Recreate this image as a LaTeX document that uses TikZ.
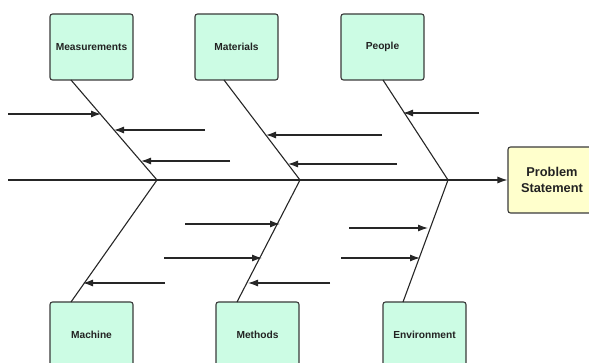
\documentclass[tikz,border=0pt]{standalone}
\usepackage{fontspec}
\setmainfont{Liberation Sans}
\usetikzlibrary{arrows.meta}
\definecolor{boxgreen}{HTML}{CCFCE4}
\definecolor{boxyellow}{HTML}{FFFFCC}
\definecolor{edgegray}{HTML}{3A3A3A}
\definecolor{txt}{HTML}{222222}
\tikzset{
  cat/.style={draw=edgegray, line width=1.1pt, fill=boxgreen, rounded corners=2.5pt,
    minimum width=83pt, minimum height=66pt, inner sep=0pt,
    font=\fontsize{10.2}{12}\selectfont\bfseries, text=txt},
  prob/.style={draw=edgegray, line width=1.1pt, fill=boxyellow, rounded corners=2.5pt,
    minimum width=88pt, minimum height=66pt, inner sep=0pt, align=center,
    font=\fontsize{12.8}{16}\selectfont\bfseries, text=txt},
  bone/.style={draw=black!85, line width=1.1pt},
  cause/.style={draw=black!85, line width=1.1pt, -{Latex[length=10pt,width=7pt]}}
}
\begin{document}
\begin{tikzpicture}[x=1pt,y=-1pt]
\useasboundingbox (0,0) rectangle (589,363);
\clip (0,0) rectangle (589,363);
% boxes
\node[cat] (meas) at (91.5,47) {Measurements};
\node[cat] (mat) at (236.5,47) {Materials};
\node[cat] (peo) at (382.5,47) {People};
\node[cat] (mach) at (91.5,335) {Machine};
\node[cat] (meth) at (257.5,335) {Methods};
\node[cat] (env) at (424.5,335) {Environment};
\node[prob] (prob) at (552,180) {Problem\\Statement};
% spine
\coordinate (s0) at (8,180);
\draw[cause] (s0) -- (prob.west);
% joints
\coordinate (j1) at (157,180);
\coordinate (j2) at (300,180);
\coordinate (j3) at (448,180);
\coordinate (t1) at (71,80);
\coordinate (t2) at (224,80);
\coordinate (t3) at (383,80);
\coordinate (b1) at (71,302);
\coordinate (b2) at (237,302);
\coordinate (b3) at (403,302);
\draw[bone] (t1) -- (j1) -- (b1);
\draw[bone] (t2) -- (j2) -- (b2);
\draw[bone] (t3) -- (j3) -- (b3);
% cause arrows
\coordinate (a1s) at (8,114);   \coordinate (a1e) at (101,114);
\coordinate (a2s) at (205,130); \coordinate (a2e) at (114,130);
\coordinate (a3s) at (230,161); \coordinate (a3e) at (141,161);
\coordinate (a4s) at (382,135); \coordinate (a4e) at (266,135);
\coordinate (a5s) at (397,164); \coordinate (a5e) at (288,164);
\coordinate (a6s) at (479,113); \coordinate (a6e) at (403,113);
\coordinate (a7s) at (165,283); \coordinate (a7e) at (83,283);
\coordinate (a8s) at (185,224); \coordinate (a8e) at (280,224);
\coordinate (a9s) at (164,258); \coordinate (a9e) at (262,258);
\coordinate (a10s) at (330,283); \coordinate (a10e) at (248,283);
\coordinate (a11s) at (349,228); \coordinate (a11e) at (428,228);
\coordinate (a12s) at (341,258); \coordinate (a12e) at (420,258);
\foreach \i in {1,...,12} {\draw[cause] (a\i s) -- (a\i e);}
\end{tikzpicture}
\end{document}
